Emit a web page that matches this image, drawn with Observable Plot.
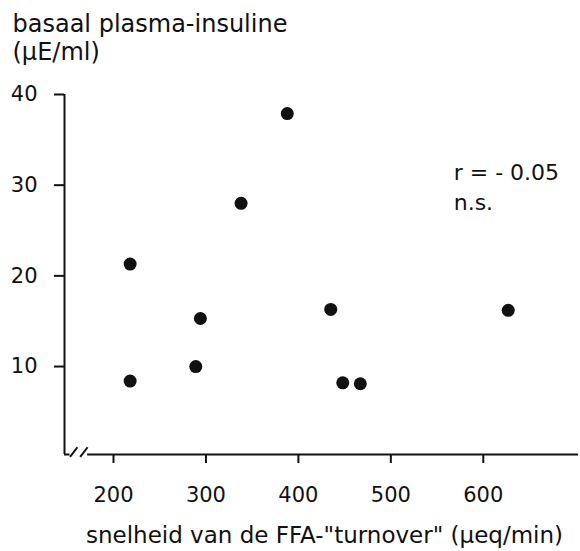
<!DOCTYPE html>
<html>
<head>
<meta charset="utf-8">
<script src="https://cdn.jsdelivr.net/npm/d3@7"></script>
<script src="https://cdn.jsdelivr.net/npm/@observablehq/plot@0.6"></script>
<style>
  html, body { margin: 0; padding: 0; background: #fff; }
  #chart svg { display: block; }
</style>
</head>
<body>
<div id="chart"></div>
<script>
// FFA turnover rate (µeq/min) against basal plasma insulin (µE/ml), one value per subject
const turnover = [218, 218, 289, 294, 338, 388, 435, 448, 467, 627];
const insulin  = [21.3, 8.4, 10.0, 15.3, 28.0, 37.9, 16.3, 8.2, 8.1, 16.2];

const xTicks = [200, 300, 400, 500, 600];
const yTicks = [10, 20, 30, 40];

const yTitle = ["basaal plasma-insuline", "(µE/ml)"];
const xTitle = "snelheid van de FFA-\"turnover\" (µeq/min)";
const stats = ["r = - 0.05", "n.s."];
const statX = [568, 568];
const statY = [31.4, 28.0];

// axis extents and the break on the x axis (data units)
const xDomain = [147, 703];
const yDomain = [0.3, 40];
const breakGap = [153, 172];
const breakSlashes = [
  {x1: 153, x2: 161, y1: 0.05, y2: 1.1},
  {x1: 164, x2: 172, y1: 0.05, y2: 1.1}
];

const points = turnover.map((x, i) => ({x, y: insulin[i]}));
const statLines = stats.map((t, i) => ({t, x: statX[i], y: statY[i]}));

const ink = "#111";
const font = "DejaVu Sans";
const titleOffsets = [-70, -42];

const chart = Plot.plot({
  width: 580,
  height: 551,
  marginLeft: 64,
  marginRight: 2,
  marginTop: 94,
  marginBottom: 97,
  style: {fontFamily: font, background: "#fff", color: ink},
  x: {domain: xDomain},
  y: {domain: yDomain},
  marks: [
    // y axis line with left-pointing ticks
    Plot.ruleX([xDomain[0]], {y1: yDomain[0], y2: yDomain[1], stroke: ink, strokeWidth: 2}),
    Plot.axisY({ticks: yTicks, tickSize: 10, tickPadding: 17, fontSize: 21, strokeWidth: 2, label: null, stroke: ink, fill: ink}),
    // x axis line, interrupted by the break
    Plot.ruleY([yDomain[0]], {x1: xDomain[0], x2: breakGap[0], stroke: ink, strokeWidth: 2}),
    Plot.ruleY([yDomain[0]], {x1: breakGap[1], x2: xDomain[1], stroke: ink, strokeWidth: 2}),
    Plot.link(breakSlashes, {x1: "x1", y1: "y1", x2: "x2", y2: "y2", stroke: ink, strokeWidth: 2}),
    Plot.axisX({ticks: xTicks, tickSize: 9, tickPadding: 24, fontSize: 21, strokeWidth: 2, label: null, stroke: ink, fill: ink}),
    // axis titles
    Plot.text([yTitle[0]], {text: d => d, frameAnchor: "top-left", textAnchor: "start", lineAnchor: "middle",
      dx: -52, dy: titleOffsets[0], fontSize: 24, fill: ink}),
    Plot.text([yTitle[1]], {text: d => d, frameAnchor: "top-left", textAnchor: "start", lineAnchor: "middle",
      dx: -52, dy: titleOffsets[1], fontSize: 24, fill: ink}),
    Plot.text([xTitle], {text: d => d, frameAnchor: "bottom", textAnchor: "middle", lineAnchor: "middle",
      dx: 3, dy: 81, fontSize: 23, fill: ink}),
    // subjects
    Plot.dot(points, {x: "x", y: "y", r: 6.5, fill: ink, stroke: "none"}),
    // correlation note
    Plot.text(statLines, {x: "x", y: "y", text: "t", textAnchor: "start", lineAnchor: "middle", fontSize: 22, fill: ink})
  ]
});

document.getElementById("chart").append(chart);
</script>
</body>
</html>
